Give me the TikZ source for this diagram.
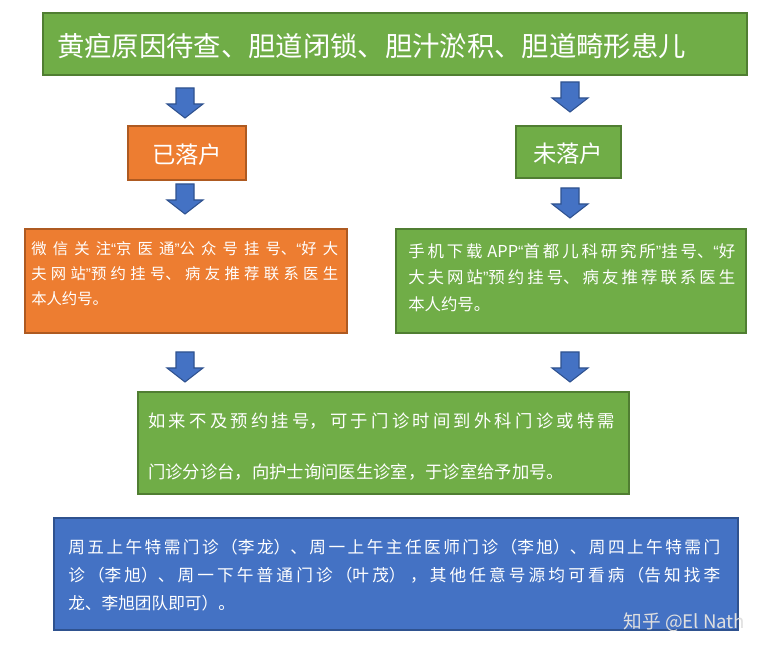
\documentclass[tikz,border=0pt]{standalone}
\usepackage{fontspec}
\setmainfont{Noto Sans CJK SC}
\newfontfamily\qf{Liberation Sans}
\newcommand{\myLq}{{\qf “}}
\newcommand{\myRq}{{\qf ”}}
\XeTeXlinebreaklocale "zh"
\XeTeXlinebreakskip=0pt plus 6pt
\definecolor{gr}{HTML}{70AD47}
\definecolor{grb}{HTML}{507E32}
\definecolor{og}{HTML}{ED7D31}
\definecolor{ogb}{HTML}{AE5A21}
\definecolor{bl}{HTML}{4472C4}
\definecolor{blb}{HTML}{2F528F}
\begin{document}
\begin{tikzpicture}[x=0.75pt,y=-0.75pt,
  gbox/.style={fill=gr,draw=grb,line width=0.8pt},
  obox/.style={fill=og,draw=ogb,line width=0.8pt},
  bbox/.style={fill=bl,draw=blb,line width=0.8pt},
  txt/.style={anchor=north west,white,align=justify,inner sep=0pt},
  darr/.pic={\draw[fill=bl,draw=blb,line width=0.8pt] (-9,0)--(9,0)--(9,16)--(18,16)--(0,30)--(-18,16)--(-9,16)--cycle;}]
\useasboundingbox (0,0) rectangle (767,655);
\draw[gbox] (43,13) rectangle (747,75);
\node[anchor=west,font=\fontsize{20.5}{22}\selectfont,white,inner sep=0pt] (t) at (57,46) {黄疸原因待查、胆道闭锁、胆汁淤积、胆道畸形患儿};
\pic at (185,88) {darr};
\pic at (570,82) {darr};
\draw[obox] (25,229) rectangle (347,333);
\draw[obox] (128,126) rectangle (246,180);
\node[font=\fontsize{17.5}{20}\selectfont,white] (a) at (187,155) {已落户};
\draw[gbox] (516,126) rectangle (621,178);
\node[font=\fontsize{17.5}{20}\selectfont,white] (b) at (568,154) {未落户};
\pic at (185,184) {darr};
\pic at (570,188) {darr};
\node[txt,text width=307*0.75pt,font=\fontsize{11.5}{19}\selectfont] (c) at (31,241) {微信关注\myLq 京医通\myRq 公众号挂号、\myLq 好大\break 夫网站\myRq 预约挂号、病友推荐联系医生\break 本人约号。};
\draw[gbox] (396,229) rectangle (746,333);
\node[txt,text width=327*0.75pt,font=\fontsize{12.3}{20}\selectfont] (d) at (408,243) {手机下载\hspace{0.3em}APP\myLq 首都儿科研究所\myRq 挂号、\myLq 好\break 大夫网站\myRq 预约挂号、病友推荐联系医生\break 本人约号。};
\pic at (185,352) {darr};
\pic at (570,352) {darr};
\draw[gbox] (138,392) rectangle (629,494);
\node[txt,text width=467*0.75pt,font=\fontsize{13}{38}\selectfont] (e) at (148,413) {如来不及预约挂号，可于门诊时间到外科门诊或特需\break 门诊分诊台，向护士询问医生诊室，于诊室给予加号。};
\draw[bbox] (54,518) rectangle (738,630);
\node[txt,text width=652*0.75pt,font=\fontsize{12.5}{21}\selectfont] (f) at (68,539) {周五上午特需门诊（李龙）、周一上午主任医师门诊（李旭）、周四上午特需门\break 诊（李旭）、周一下午普通门诊（叶茂）\ ，其他任意号源均可看病（告知找李\break 龙、李旭团队即可）。};
\node[anchor=east,font=\fontsize{14}{16}\selectfont,white!75!gray] (w) at (750,622) {知乎 @El Nath};
\end{tikzpicture}
\end{document}
